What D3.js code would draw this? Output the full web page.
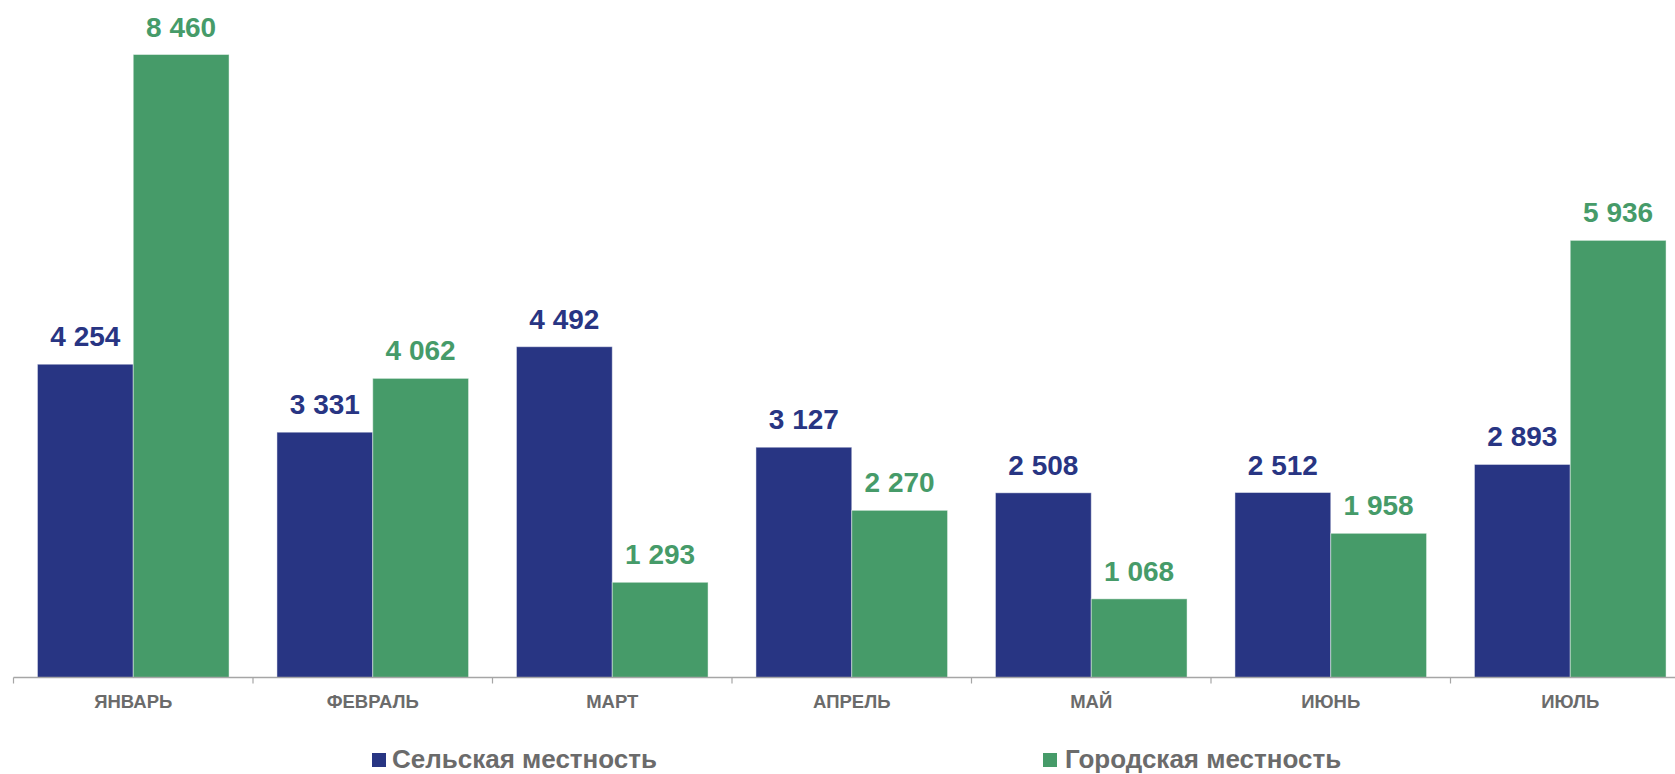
<!DOCTYPE html>
<html>
<head>
<meta charset="utf-8">
<script src="https://cdn.jsdelivr.net/npm/d3@7"></script>
<style>
  html, body { margin: 0; padding: 0; background: #ffffff; }
  svg { display: block; }
  text { font-family: "Liberation Sans", Arial, sans-serif; }
</style>
</head>
<body>
<svg id="chart" width="1675" height="774"></svg>
<script>
const categories = ["ЯНВАРЬ", "ФЕВРАЛЬ", "МАРТ", "АПРЕЛЬ", "МАЙ", "ИЮНЬ", "ИЮЛЬ"];
const seriesNames = ["Сельская местность", "Городская местность"];
const rural = [4254, 3331, 4492, 3127, 2508, 2512, 2893];
const urban = [8460, 4062, 1293, 2270, 1068, 1958, 5936];
const colors = ["#283583", "#469b69"];

const W = 1675, H = 774;
const svg = d3.select("#chart");

const step = 239.5;
const x0 = 13.5;
const baseY = 677.5;
const pxPerUnit = 0.07364;

const x = d3.scaleBand()
  .domain(categories)
  .range([x0, x0 + step * categories.length])
  .paddingInner(0.2)
  .paddingOuter(0.1);

const xSub = d3.scaleBand()
  .domain(seriesNames)
  .range([0, x.bandwidth()])
  .padding(0);

const yMax = 9000;
const y = d3.scaleLinear()
  .domain([0, yMax])
  .range([baseY, baseY - yMax * pxPerUnit]);

const rows = categories.map((c, i) => ({
  cat: c,
  vals: [
    { s: seriesNames[0], v: rural[i], k: 0 },
    { s: seriesNames[1], v: urban[i], k: 1 }
  ]
}));

const groups = svg.append("g").selectAll("g")
  .data(rows)
  .join("g")
  .attr("transform", d => `translate(${x(d.cat)},0)`);

groups.selectAll("rect")
  .data(d => d.vals)
  .join("rect")
  .attr("x", d => xSub(d.s))
  .attr("y", d => y(d.v))
  .attr("width", xSub.bandwidth())
  .attr("height", d => y(0) - y(d.v))
  .attr("fill", d => colors[d.k])
  .attr("stroke", "rgba(255,255,255,0.45)")
  .attr("stroke-width", 1);

groups.selectAll("text.val")
  .data(d => d.vals)
  .join("text")
  .attr("class", "val")
  .attr("x", d => xSub(d.s) + xSub.bandwidth() / 2)
  .attr("y", d => y(d.v) - 18)
  .attr("text-anchor", "middle")
  .attr("font-size", 28)
  .attr("font-weight", "bold")
  .attr("fill", d => colors[d.k])
  .text(d => d3.format(",")(d.v).replace(/,/g, " "));

// x axis
const axisG = svg.append("g");
axisG.append("line")
  .attr("x1", x0).attr("x2", W + 20)
  .attr("y1", baseY).attr("y2", baseY)
  .attr("stroke", "#a6a6a6").attr("stroke-width", 1.5);

const tickPositions = d3.range(categories.length + 1).map(i => x0 + i * x.step());
axisG.selectAll("line.tick")
  .data(tickPositions)
  .join("line")
  .attr("class", "tick")
  .attr("x1", d => d).attr("x2", d => d)
  .attr("y1", baseY).attr("y2", baseY + 6)
  .attr("stroke", "#a6a6a6").attr("stroke-width", 1.2);

axisG.selectAll("text.cat")
  .data(categories)
  .join("text")
  .attr("class", "cat")
  .attr("x", d => x(d) + x.bandwidth() / 2)
  .attr("y", 707.5)
  .attr("text-anchor", "middle")
  .attr("font-size", 18.5)
  .attr("font-weight", "bold")
  .attr("fill", "#6b6b6b")
  .text(d => d);

// legend
const legendItems = [
  { name: seriesNames[0], color: colors[0], sx: 372, tx: 392 },
  { name: seriesNames[1], color: colors[1], sx: 1043, tx: 1065 }
];
const lg = svg.append("g");
lg.selectAll("rect")
  .data(legendItems)
  .join("rect")
  .attr("x", d => d.sx).attr("y", 753)
  .attr("width", 14).attr("height", 14)
  .attr("fill", d => d.color);
lg.selectAll("text")
  .data(legendItems)
  .join("text")
  .attr("x", d => d.tx).attr("y", 768)
  .attr("font-size", 26)
  .attr("font-weight", "bold")
  .attr("fill", "#6b6b6b")
  .text(d => d.name);
</script>
</body>
</html>
